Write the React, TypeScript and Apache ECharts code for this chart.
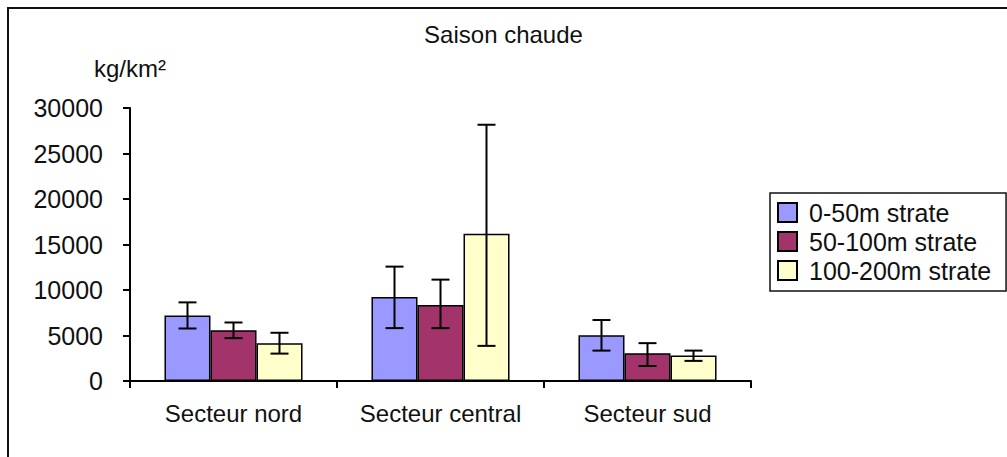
import React, { useEffect, useRef } from "react";
import * as echarts from "echarts";

const categories = ["Secteur nord", "Secteur central", "Secteur sud"];
const seriesNames = ["0-50m strate", "50-100m strate", "100-200m strate"];
const colors = ["#9999FF", "#A3336B", "#FFFFCC"];

const values0to50 = [7200, 9230, 5040];
const values50to100 = [5590, 8350, 3050];
const values100to200 = [4160, 16180, 2790];

const low0to50 = [5770, 5810, 3340];
const high0to50 = [8640, 12570, 6700];
const low50to100 = [4710, 5810, 1650];
const high50to100 = [6430, 11140, 4160];
const low100to200 = [3010, 3860, 2210];
const high100to200 = [5300, 28160, 3340];

const yTicks = [0, 5000, 10000, 15000, 20000, 25000, 30000];

const FONT = "Liberation Sans, Arial, sans-serif";
const CAT_GAP = 1 / 3;

export default function App() {
  const ref = useRef<HTMLDivElement>(null);
  useEffect(() => {
    if (!ref.current) return;
    const chart = echarts.init(ref.current, null, { renderer: "svg" });
    const values = [values0to50, values50to100, values100to200];
    const lows = [low0to50, low50to100, low100to200];
    const highs = [high0to50, high50to100, high100to200];
    const errData: number[][] = [];
    for (let s = 0; s < 3; s++) {
      for (let c = 0; c < categories.length; c++) {
        errData.push([c, lows[s][c], highs[s][c], s]);
      }
    }
    const barSeries = seriesNames.map((name, i) => ({
      name,
      type: "bar",
      data: values[i],
      barGap: "0%",
      barCategoryGap: "33.3%",
      itemStyle: { color: colors[i], borderColor: "#000", borderWidth: 1.5 },
    }));
    chart.setOption({
      animation: false,
      backgroundColor: "#fff",
      title: {
        text: "Saison chaude",
        left: "center",
        top: 22,
        padding: 0,
        textStyle: { fontFamily: FONT, fontSize: 24, fontWeight: "normal", color: "#111" },
      },
      legend: {
        data: seriesNames,
        orient: "vertical",
        left: 770,
        top: 193,
        padding: [7, 15, 8, 7],
        itemGap: 4,
        itemWidth: 19,
        itemHeight: 19,
        icon: "rect",
        borderColor: "#111",
        borderWidth: 1.5,
        textStyle: { fontFamily: FONT, fontSize: 25, color: "#111", padding: [0, 0, 0, 7] },
      },
      grid: { left: 130, right: 256, top: 108, bottom: 76 },
      xAxis: {
        type: "category",
        data: categories,
        axisLine: { lineStyle: { color: "#000", width: 2 } },
        axisTick: { show: true, length: 7, lineStyle: { color: "#000", width: 2 } },
        axisLabel: { fontFamily: FONT, fontSize: 24, color: "#111", margin: 20, interval: 0 },
      },
      yAxis: {
        type: "value",
        min: yTicks[0],
        max: yTicks[yTicks.length - 1],
        interval: 5000,
        name: "kg/km²",
        nameLocation: "end",
        nameGap: 28,
        nameTextStyle: { fontFamily: FONT, fontSize: 24, color: "#111" },
        axisLine: { show: true, lineStyle: { color: "#000", width: 2 } },
        axisTick: { show: true, length: 7, lineStyle: { color: "#000", width: 2 } },
        splitLine: { show: false },
        axisLabel: {
          fontFamily: FONT,
          fontSize: 25,
          color: "#111",
          margin: 27,
          formatter: (v: number) => String(v),
        },
      },
      graphic: [
        {
          type: "rect",
          shape: { x: 8, y: 8, width: 1200, height: 700 },
          style: { fill: "none", stroke: "#111", lineWidth: 2 },
          silent: true,
        },
      ],
      series: [
        ...barSeries,
        {
          type: "custom",
          name: "error",
          z: 5,
          data: errData,
          encode: { x: 0, y: [1, 2] },
          renderItem: (_params: any, api: any) => {
            const c = api.value(0);
            const lo = api.value(1);
            const hi = api.value(2);
            const s = api.value(3);
            const catW = api.size([1, 0])[0];
            const barW = (catW * (1 - CAT_GAP)) / 3;
            const x = api.coord([c, 0])[0] + (s - 1) * barW;
            const yLo = api.coord([c, lo])[1];
            const yHi = api.coord([c, hi])[1];
            const half = 9;
            const st = { stroke: "#000", lineWidth: 2 };
            return {
              type: "group",
              children: [
                { type: "line", shape: { x1: x, y1: yLo, x2: x, y2: yHi }, style: st },
                { type: "line", shape: { x1: x - half, y1: yHi, x2: x + half, y2: yHi }, style: st },
                { type: "line", shape: { x1: x - half, y1: yLo, x2: x + half, y2: yLo }, style: st },
              ],
            };
          },
        },
      ],
    });
    return () => chart.dispose();
  }, []);
  return (
    <div
      ref={ref}
      style={{ position: "fixed", left: 0, top: 0, width: 1007, height: 457 }}
    />
  );
}
